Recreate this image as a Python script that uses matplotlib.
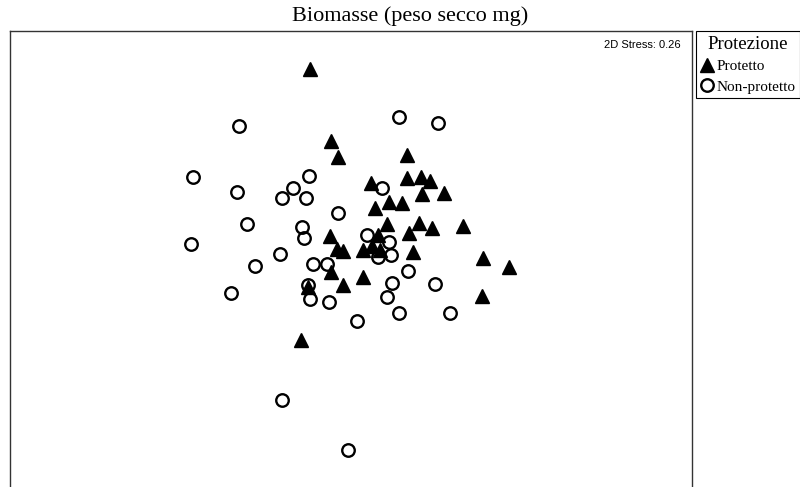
# NMDS ordination of biomass (dry weight), protected vs non-protected -> out.png
import matplotlib.pyplot as plt
from matplotlib.lines import Line2D

# NMDS axis scores
prot_x = [-0.40, -0.19, -0.12, 0.57, 0.21, 0.57, 0.71, 0.80, 0.39, 0.52, 0.25, 0.72,
          0.94, 0.37, 0.69, 0.82, 1.13, 0.59, -0.20, 0.28, -0.13, -0.07, 0.13, 0.22,
          0.30, 0.63, 1.33, 1.59, -0.19, 0.13, -0.07, -0.42, 1.32, -0.49]
prot_y = [1.81, 1.09, 0.93, 0.95, 0.67, 0.72, 0.73, 0.69, 0.48, 0.47, 0.42, 0.56,
          0.57, 0.26, 0.27, 0.22, 0.24, 0.17, 0.14, 0.15, 0.01, -0.01, 0.00, 0.04,
          0.00, -0.02, -0.08, -0.17, -0.22, -0.27, -0.35, -0.37, -0.46, -0.90]

nonprot_x = [-1.11, 0.49, 0.88, -1.57, -1.13, -0.57, -0.41, -0.68, -0.44, 0.32, -0.12,
             -1.03, -0.48, -0.46, -1.59, 0.17, 0.39, 0.28, 0.41, -0.70, -0.95, -0.37,
             -0.23, 0.58, -0.42, 0.42, 0.85, -1.19, -0.40, -0.21, 0.37, 0.07, 0.49,
             1.00, -0.68, -0.02]
nonprot_y = [1.24, 1.33, 1.27, 0.73, 0.58, 0.62, 0.74, 0.52, 0.52, 0.62, 0.37,
             0.26, 0.23, 0.12, 0.06, 0.15, 0.08, -0.07, -0.05, -0.04, -0.16, -0.14,
             -0.14, -0.21, -0.35, -0.33, -0.34, -0.43, -0.49, -0.52, -0.47, -0.71, -0.63,
             -0.63, -1.50, -2.00]

stress = 0.26

W, H = 800, 487
fig = plt.figure(figsize=(W / 100, H / 100), dpi=100)
ax = fig.add_axes([10 / W, 0, 682 / W, 1 - 31 / H])

ax.plot(nonprot_x, nonprot_y, "o", ms=9, mfc="none", mec="black", mew=1.7, ls="none")
ax.plot(prot_x, prot_y, "^", ms=10, mfc="black", mec="black", ls="none")

ax.set_xlim(-3.40, 3.42)
ax.set_ylim(-2.37, 2.19)
ax.set_xticks([]); ax.set_yticks([])
ax.spines["bottom"].set_visible(False)
for s in ("top", "left", "right"):
    ax.spines[s].set_color("#333333")
    ax.spines[s].set_linewidth(1.0)

ax.text(0.983, 0.970, f"2D Stress: {stress:.2f}", transform=ax.transAxes,
        ha="right", va="center", fontsize=8, family="Liberation Sans")

fig.text(410 / W, 1 - 16 / H, "Biomasse (peso secco mg)", ha="center", va="center",
         fontsize=16, family="Liberation Serif")

handles = [
    Line2D([], [], marker="^", ls="none", ms=10, mfc="black", mec="black"),
    Line2D([], [], marker="o", ls="none", ms=9, mfc="none", mec="black", mew=1.7),
]
leg = fig.legend(handles, ["Protetto", "Non-protetto"], title="Protezione",
                 loc="upper left", bbox_to_anchor=(696 / W, 1 - 31 / H),
                 bbox_transform=fig.transFigure, borderaxespad=0, borderpad=0.3,
                 handlelength=0.8, handletextpad=0.25, labelspacing=0.45,
                 fancybox=False, edgecolor="black", framealpha=1,
                 prop={"family": "Liberation Serif", "size": 11},
                 title_fontproperties={"family": "Liberation Serif", "size": 13.5})
leg.get_frame().set_linewidth(0.8)

fig.savefig("out.png", dpi=100)
